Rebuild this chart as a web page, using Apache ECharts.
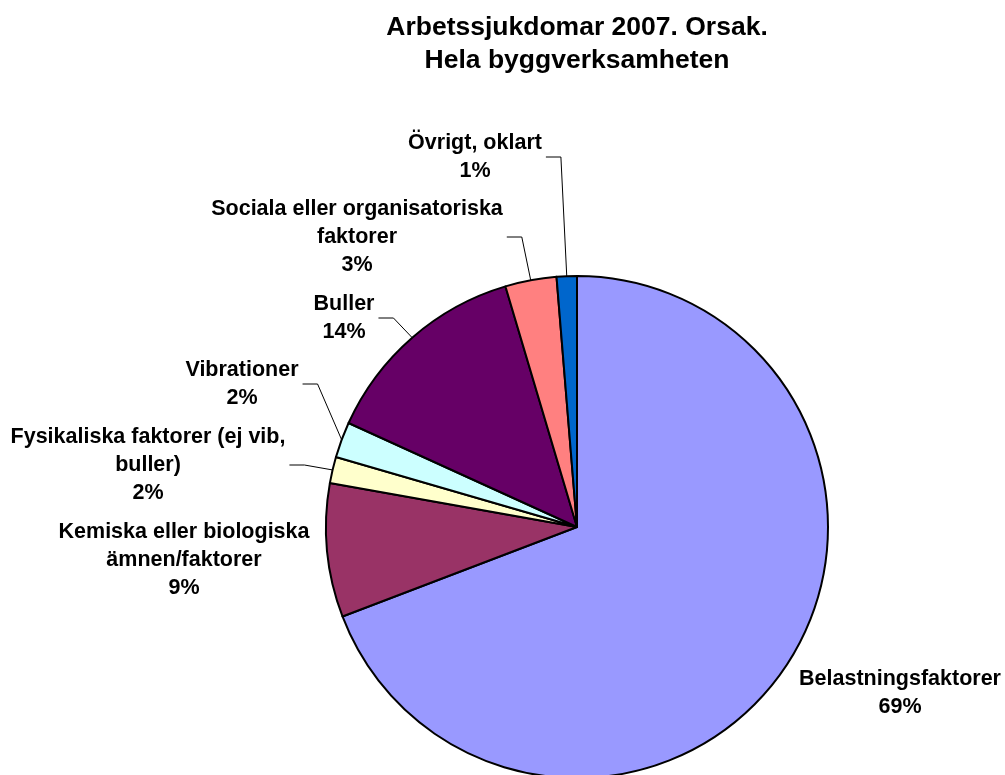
<html>
    <head>
        <meta charset="utf-8">
        <title>Arbetssjukdomar 2007. Orsak.</title>
        <script src="https://cdn.jsdelivr.net/npm/echarts/dist/echarts.min.js"></script>
        <style>
        html, body {
            margin: 0;
            padding: 0;
            background: #fff;
        }
        #main {
            width: 1005px;
            height: 775px;
        }
        </style>
    </head>
    <body>
        <div id="main"></div>
        <script type="text/javascript">
        // orsaker, medsols från kl 12
        var orsaker = [
            'Belastningsfaktorer',
            'Kemiska eller biologiska\nämnen/faktorer',
            'Fysikaliska faktorer (ej vib,\nbuller)',
            'Vibrationer',
            'Buller',
            'Sociala eller organisatoriska\nfaktorer',
            'Övrigt, oklart'
        ];
        var andelar = [69.2, 8.6, 1.7, 2.3, 13.6, 3.3, 1.3];

        var farger = ['#9999FF', '#993366', '#FFFFCC', '#CCFFFF', '#660066', '#FF8080', '#0066CC'];
        var medLinje = [false, false, true, true, true, true, true];
        // etikettens mittpunkt (px)
        var etikettPos = [[900, 693], [184, 560], [148, 465], [242, 384], [344, 318], [357, 237], [475, 157]];

        var font = '"Liberation Sans", Arial, sans-serif';

        var data = [];
        for (var i = 0; i < orsaker.length; i++) {
            data.push({
                name: orsaker[i],
                value: andelar[i],
                itemStyle: { color: farger[i] },
                labelLine: { show: medLinje[i] }
            });
        }

        var myChart = echarts.init(document.getElementById('main'));

        var option = {
            backgroundColor: '#fff',
            animation: false,
            title: {
                text: 'Arbetssjukdomar 2007. Orsak.\nHela byggverksamheten',
                left: 577,
                top: 11,
                padding: 0,
                textAlign: 'center',
                textStyle: {
                    fontFamily: font,
                    fontWeight: 'bold',
                    fontSize: 26.5,
                    lineHeight: 33,
                    color: '#000'
                }
            },
            series: [
                {
                    name: 'Orsak',
                    type: 'pie',
                    center: [577, 527],
                    radius: 251,
                    startAngle: 90,
                    clockwise: true,
                    percentPrecision: 0,
                    avoidLabelOverlap: false,
                    emphasis: { disabled: true },
                    itemStyle: {
                        borderColor: '#000',
                        borderWidth: 2
                    },
                    label: {
                        show: true,
                        position: 'outside',
                        formatter: '{b}\n{d}%',
                        fontFamily: font,
                        fontWeight: 'bold',
                        fontSize: 21.5,
                        lineHeight: 28,
                        color: '#000'
                    },
                    labelLine: {
                        length: 10,
                        length2: 10,
                        lineStyle: { color: '#000', width: 1 }
                    },
                    labelLayout: function (params) {
                        var p = etikettPos[params.dataIndex];
                        var res = { x: p[0], y: p[1], align: 'center', verticalAlign: 'middle' };
                        if (medLinje[params.dataIndex] && params.labelLinePoints) {
                            var right = p[0] + params.labelRect.width / 2 + 4;
                            res.labelLinePoints = [params.labelLinePoints[0], [right + 15, p[1]], [right, p[1]]];
                        }
                        return res;
                    },
                    data: data
                }
            ]
        };
        myChart.setOption(option);
        </script>
    </body>
</html>
